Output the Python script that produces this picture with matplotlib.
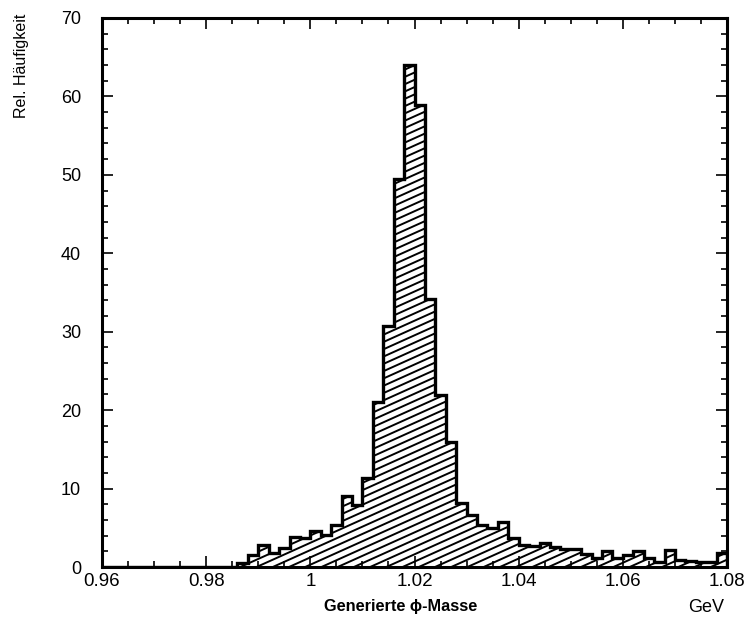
import numpy as np
import matplotlib
matplotlib.use("Agg")
import matplotlib.pyplot as plt
from matplotlib.collections import LineCollection
from matplotlib.transforms import IdentityTransform
from matplotlib.ticker import MultipleLocator, FixedLocator, FixedFormatter

plt.rcParams['font.family'] = ['Liberation Sans', 'DejaVu Sans']

# Histogram: 60 bins of 0.002 GeV from 0.96 to 1.08
bin_start = 0.96
bin_width = 0.002
counts = [0, 0, 0, 0, 0, 0, 0, 0, 0, 0,
          0, 0, 0, 0.5, 1.5, 2.8, 1.8, 2.4, 3.8, 3.7,
          4.6, 4.1, 5.3, 9.0, 7.9, 11.3, 21.1, 30.7, 49.5, 64.0,
          58.9, 34.2, 21.9, 16.0, 8.2, 6.6, 5.3, 5.0, 5.7, 3.7,
          2.8, 2.7, 3.0, 2.5, 2.3, 2.3, 1.7, 1.2, 2.0, 1.1,
          1.5, 2.0, 1.1, 0.7, 2.2, 0.9, 0.8, 0.7, 0.7, 1.8]
xticks = [0.96, 0.98, 1.0, 1.02, 1.04, 1.06, 1.08]
xticklabels = ['0.96', '0.98', '1', '1.02', '1.04', '1.06', '1.08']
yticks = [0, 10, 20, 30, 40, 50, 60, 70]

edges = bin_start + bin_width * np.arange(len(counts) + 1)

fig = plt.figure(figsize=(7.5, 6.27), dpi=100)
ax = fig.add_axes([102 / 750, 1 - 567 / 627, 625 / 750, 549 / 627])
ax.set_xlim(0.96, 1.08)
ax.set_ylim(0, 70)

# filled region for clipping hatch
fillp = ax.stairs(counts, edges, fill=True, facecolor='white', edgecolor='none', zorder=1)

# shallow diagonal hatching in pixel space, clipped to histogram
x0, y0 = ax.transAxes.transform((0, 0))
x1, y1 = ax.transAxes.transform((1, 1))
slope = 0.45
spacing = 7.3
segs = []
c = -slope * (x1 - x0) - spacing
while c < (y1 - y0) + spacing:
    segs.append([(x0, y0 + c), (x1, y0 + c + slope * (x1 - x0))])
    c += spacing
lc = LineCollection(segs, colors='black', linewidths=1.4, transform=IdentityTransform(), zorder=2)
ax.add_collection(lc, autolim=False)
lc.set_clip_path(fillp)

# outline
ax.stairs(counts, edges, fill=False, color='black', linewidth=2.4, zorder=3, baseline=0)

for s in ax.spines.values():
    s.set_linewidth(2.2)

ax.xaxis.set_major_locator(FixedLocator(xticks))
ax.xaxis.set_major_formatter(FixedFormatter(xticklabels))
ax.xaxis.set_minor_locator(MultipleLocator(0.005))
ax.yaxis.set_major_locator(FixedLocator(yticks))
ax.yaxis.set_minor_locator(MultipleLocator(2))
ax.tick_params(which='both', direction='in', top=True, right=True, width=1.2)
ax.tick_params(which='major', length=8)
ax.tick_params(which='minor', length=4)
ax.tick_params(axis='x', labelsize=13.5, pad=4)
ax.tick_params(axis='y', labelsize=13, pad=15)

fig.text(22 / 750, 1 - 14 / 627, 'Rel. Häufigkeit', rotation=90, ha='center', va='top', fontsize=11.5)
fig.text(401 / 750, 1 - 607 / 627, 'Generierte ϕ-Masse', ha='center', va='center', fontsize=11.8, fontweight='bold')
fig.text(706 / 750, 1 - 607 / 627, 'GeV', ha='center', va='center', fontsize=13)

fig.savefig('out.png', dpi=100)
